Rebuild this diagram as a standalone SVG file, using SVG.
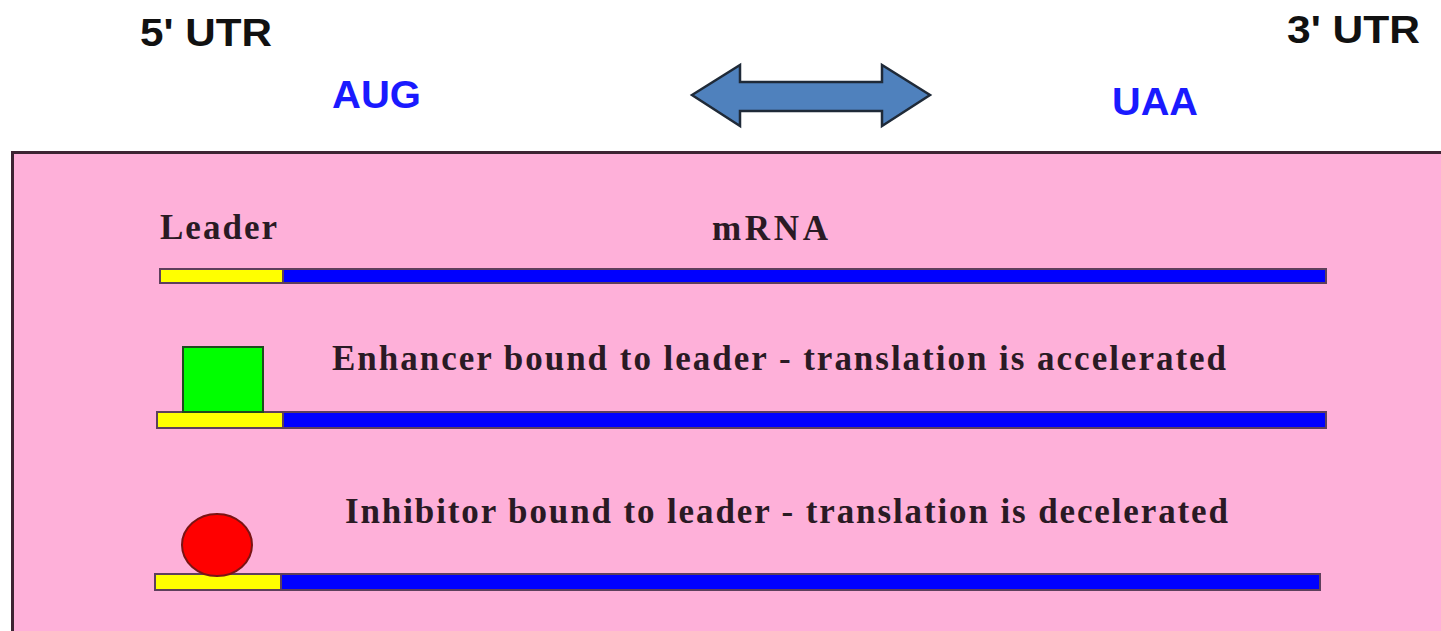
<svg xmlns="http://www.w3.org/2000/svg" width="1441" height="631" viewBox="0 0 1441 631">
<style>
.utr{font-family:"Liberation Sans",Arial,sans-serif;font-weight:bold;font-size:39px;fill:#111}
.codon{font-family:"Liberation Sans",Arial,sans-serif;font-weight:bold;font-size:38px;fill:#1a1aff}
.lbl{font-family:"Liberation Serif","Times New Roman",serif;font-weight:bold;font-size:35px;fill:#2a1a24}
.bar{stroke:#5e3f5c;stroke-width:2}
.lead{fill:#ffff00}
.rna{fill:#0000ff}
</style>
<rect width="1441" height="631" fill="#ffffff"/>
<g id="panel">
<rect x="12.5" y="152.5" width="1440" height="500" fill="#feb0d9" stroke="#3d2433" stroke-width="3"/>
</g>
<g id="labels-top">
<text class="utr" x="140" y="46" textLength="132" lengthAdjust="spacingAndGlyphs">5' UTR</text>
<text class="utr" x="1287" y="43" textLength="133" lengthAdjust="spacingAndGlyphs">3' UTR</text>
<text class="codon" x="332" y="108" textLength="89" lengthAdjust="spacingAndGlyphs">AUG</text>
<text class="codon" x="1112" y="115" textLength="86" lengthAdjust="spacingAndGlyphs">UAA</text>
</g>
<g id="double-arrow">
<path d="M692,95 L740,65 L740,82 L882,82 L882,65 L930,95 L882,126 L882,111 L740,111 L740,126 Z" fill="#4f81bd" stroke="#1f2a38" stroke-width="2.5" stroke-linejoin="miter"/>
</g>
<g id="mrna-row">
<text class="lbl" x="160" y="239" textLength="117" lengthAdjust="spacing">Leader</text>
<text class="lbl" x="712" y="240" textLength="116" lengthAdjust="spacing">mRNA</text>
<rect class="bar rna" x="160" y="269" width="1166" height="14"/>
<rect class="bar lead" x="160" y="269" width="123" height="14"/>
</g>
<g id="enhancer-row">
<text class="lbl" x="332" y="370" textLength="894" lengthAdjust="spacing">Enhancer bound to leader - translation is accelerated</text>
<rect class="bar rna" x="157" y="412" width="1169" height="16"/>
<rect class="bar lead" x="157" y="412" width="126" height="16"/>
<rect id="enhancer" x="183" y="347" width="80" height="65" fill="#00ff00" stroke="#1e4a1e" stroke-width="2"/>
</g>
<g id="inhibitor-row">
<text class="lbl" x="345" y="523" textLength="883" lengthAdjust="spacing">Inhibitor bound to leader - translation is decelerated</text>
<rect class="bar rna" x="155" y="574" width="1165" height="16"/>
<rect class="bar lead" x="155" y="574" width="126" height="16"/>
<ellipse id="inhibitor" cx="217" cy="545" rx="35" ry="31" fill="#ff0000" stroke="#7a1414" stroke-width="2"/>
</g>
</svg>
